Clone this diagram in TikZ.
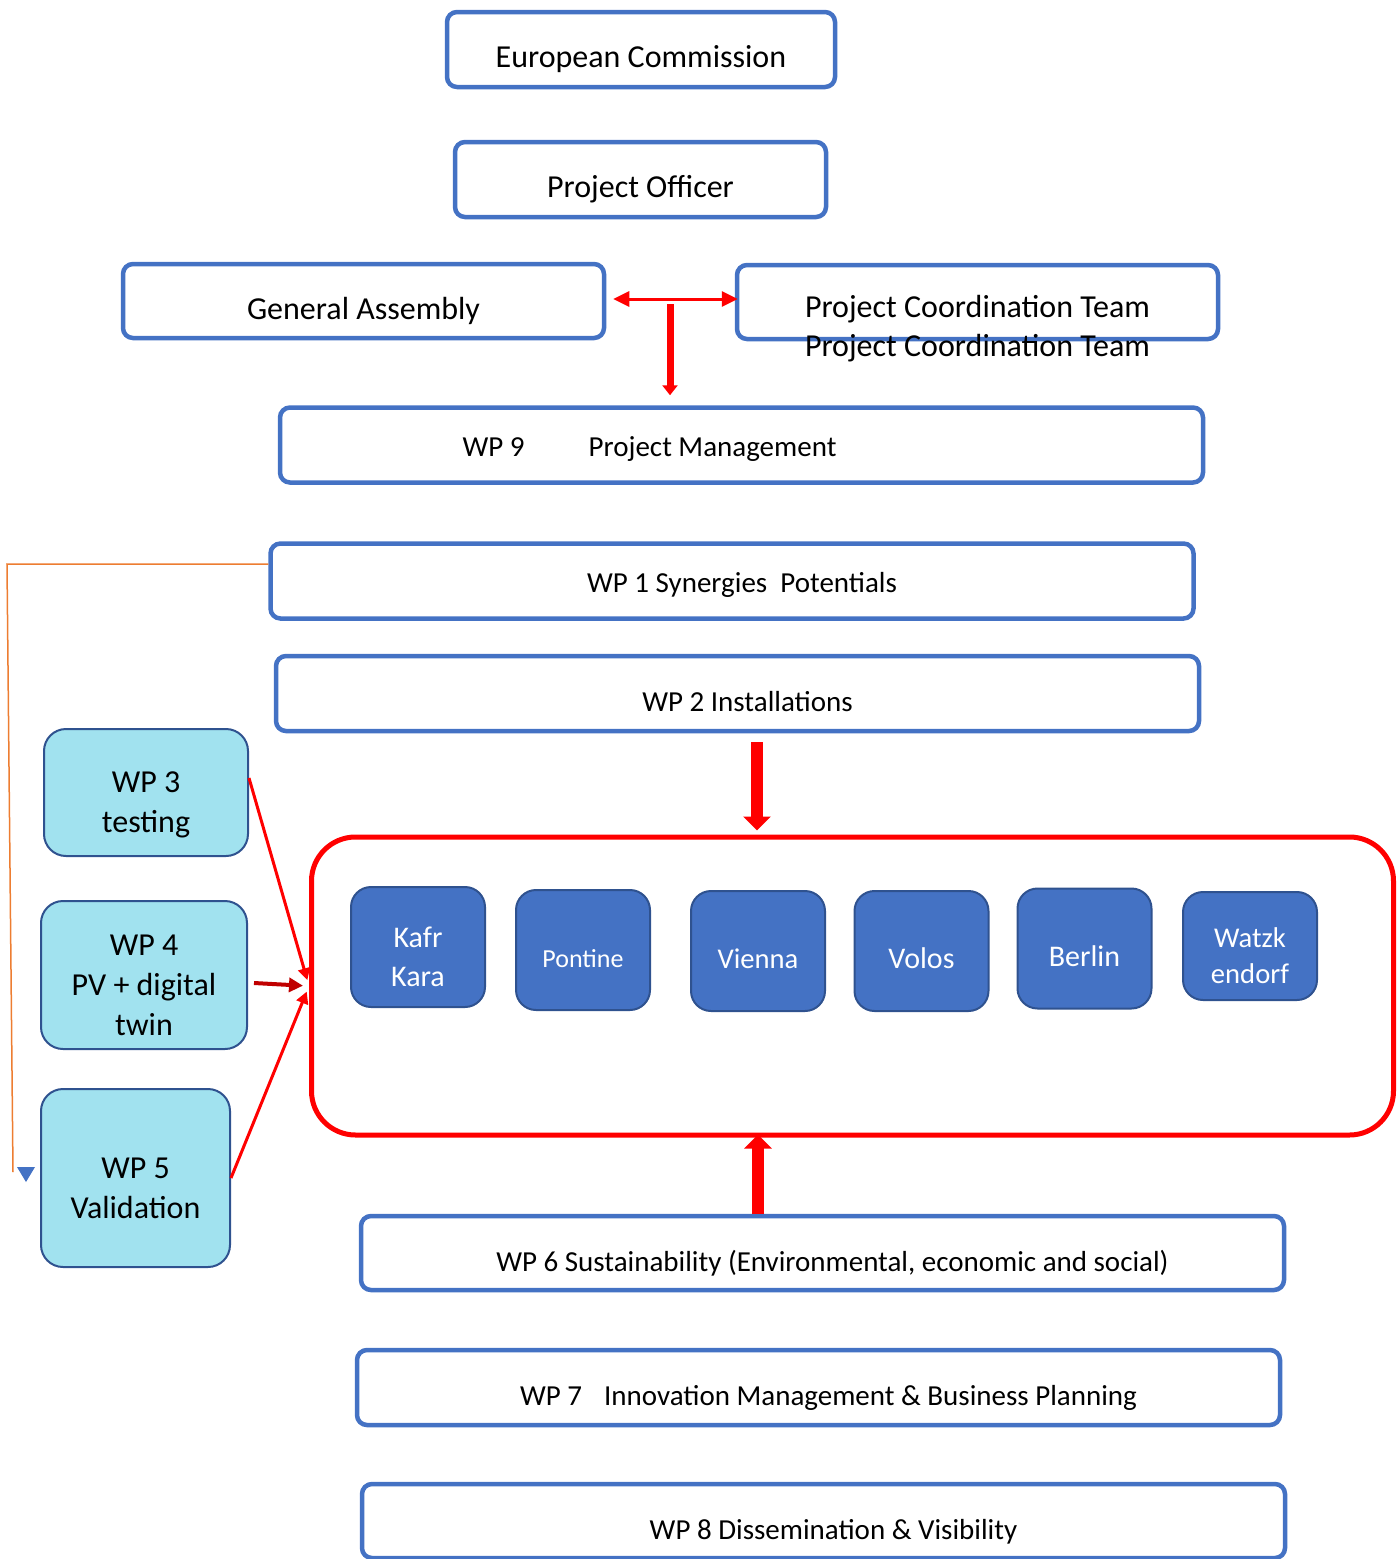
\documentclass[tikz,border=0pt]{standalone}
\usepackage{fontspec}
\setmainfont{Carlito}
\usetikzlibrary{arrows.meta}
\definecolor{wpblue}{RGB}{68,114,196}
\definecolor{darkblue}{RGB}{47,82,143}
\definecolor{lightcyan}{RGB}{161,226,239}
\definecolor{darkred}{RGB}{192,0,0}
\definecolor{orangeline}{RGB}{237,125,49}
\begin{document}
\begin{tikzpicture}[x=0.5pt, y=-0.5pt,
  plain box/.style={rectangle, rounded corners=5pt, draw=wpblue, line width=2.25pt, inner sep=0pt, minimum height=37.5pt,
    execute at begin node={\rule{0pt}{22pt}}, execute at end node={\rule[-4pt]{0pt}{0pt}}},
  top box/.style={plain box, font=\fontsize{16}{19.5}\selectfont},
  wp box/.style={plain box, minimum width=461.5pt, font=\fontsize{14.5}{17.5}\selectfont,
    execute at begin node={\hspace{10pt}\rule{0pt}{21.5pt}}},
  side box/.style={rectangle, rounded corners=11pt, draw=darkblue, line width=1pt, fill=lightcyan, align=center, inner sep=0pt,
    font=\fontsize{16}{20}\selectfont, execute at end node={\rule[-4pt]{0pt}{0pt}}},
  city/.style={rectangle, rounded corners=10pt, draw=darkblue, line width=1pt, fill=wpblue, text=white, align=center, inner sep=0pt,
    minimum width=67pt, minimum height=60pt, font=\fontsize{15}{19.5}\selectfont,
    execute at begin node={\rule{0pt}{21.5pt}}, execute at end node={\rule[-4pt]{0pt}{0pt}}},
  hub/.style={rectangle, rounded corners=22pt, draw=red, line width=2.5pt, minimum width=541pt, minimum height=149pt},
  thin arrow/.style={draw=red, line width=1.5pt, {Triangle[length=8pt,width=7.5pt]}-{Triangle[length=8pt,width=7.5pt]}},
  side arrow/.style={draw=red, line width=1.5pt, -{Triangle[length=6pt,width=6pt]}, shorten >=3pt},
  block arrow/.style={draw=red, line width=6pt, -{Triangle[length=7pt,width=13.5pt]}}]
\useasboundingbox (0,0) rectangle (1398,1559);
% top of the structure
\node[top box, minimum width=194pt] (ec) at (641,49.5) {European Commission};
\node[top box, minimum width=185.5pt] (po) at (640.5,179.5) {Project Officer};
\node[top box, minimum width=240.5pt, minimum height=37pt] (ga) at (363.5,301) {General Assembly};
\node[top box, minimum width=240.5pt, minimum height=37pt, text height=19pt, text depth=4pt] (pct) at (977.5,302)
  {\begin{tabular}[t]{@{}c@{}}Project Coordination Team\\Project Coordination Team\end{tabular}};
% work packages
\node[wp box, text height=15pt, text depth=3.7pt] (wp9) at (741.5,445) {WP 9\hspace{32pt}Project Management\hspace*{102pt}};
\node[wp box, text height=15pt, text depth=3.7pt] (wp1) at (732,581) {WP 1 Synergies\ \ Potentials};
\node[wp box] (wp2) at (737.5,693.5) {WP 2 Installations};
\node[wp box, minimum height=37pt] (wp6) at (822.5,1253) {WP 6 Sustainability (Environmental, economic and social)};
\node[wp box] (wp7) at (818.5,1387.5) {WP 7\hspace{11pt}Innovation Management \& Business Planning};
\node[wp box, minimum height=37pt] (wp8) at (823.5,1521) {WP 8 Dissemination \& Visibility};
\node[side box, minimum width=102pt, minimum height=63.5pt] (wp3) at (146,792.5) {\rule{0pt}{24pt}WP 3\\testing};
\node[side box, minimum width=103pt, minimum height=74pt] (wp4) at (144,975) {\rule{0pt}{24pt}WP 4\\PV + digital\\twin};
\node[side box, minimum width=94.5pt, minimum height=89pt] (wp5) at (135.5,1178) {\rule{0pt}{24pt}WP 5\\Validation};
% sites
\node[hub] (hub) at (852.5,986) {};
\node[city] (kafr) at (418,947) {\rule{0pt}{24pt}Kafr\\Kara};
\node[city, font=\fontsize{13}{16}\selectfont] (pontine) at (583,950) {Pontine};
\node[city, font=\fontsize{14.3}{17}\selectfont] (vienna) at (758,951) {Vienna};
\node[city] (volos) at (921.5,951) {Volos};
\node[city] (berlin) at (1084.5,948.5) {Berlin};
\node[city, minimum height=54pt, font=\fontsize{14.3}{18}\selectfont] (watzk) at (1250,946) {\rule{0pt}{23pt}Watzk\\endorf};
% connectors
\coordinate (gp) at ([yshift=1pt]ga.east);
\coordinate (jn) at (670,304);
\coordinate (ba) at (757,742);
\coordinate (bb) at (758,1214);
\coordinate (oc1) at (7,564);
\coordinate (oc2) at (13,1172);
\draw[thin arrow, shorten <=3.5pt, shorten >=-1.5pt] (gp) -- (gp -| pct.west);
\draw[draw=red, line width=3.5pt, -{Triangle[length=5pt,width=7.5pt]}, shorten >=5pt] (jn) -- (jn |- wp9.north);
\draw[block arrow, shorten >=2pt] (ba) -- (ba |- hub.north);
\draw[block arrow, shorten >=-1.5pt] (bb) -- (bb |- hub.south);
\draw[side arrow] ([yshift=7.25pt]wp3.east) -- (hub.west);
\draw[side arrow, draw=darkred, line width=2pt, -{Triangle[length=7pt,width=7pt]}] ([xshift=3pt, yshift=-4pt]wp4.east) -- (hub.west);
\draw[side arrow] (wp5.east) -- (hub.west);
\draw[orangeline, line width=0.75pt] ([yshift=8.5pt]wp1.west) -- (oc1) -- (oc2);
\fill[wpblue] (17,1167) -- (35,1167) -- (26,1182) -- cycle;
\end{tikzpicture}
\end{document}
